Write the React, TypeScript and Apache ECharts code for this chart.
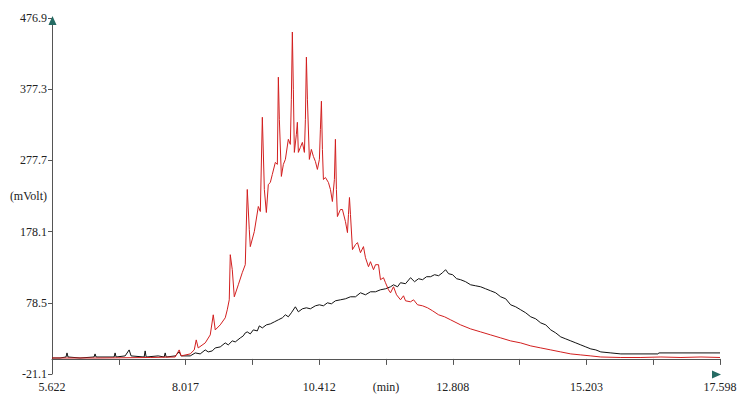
import React, { useEffect, useRef } from "react";
import * as echarts from "echarts";

// Time (min) axis ticks
const xLabelTicks = [5.622, 8.017, 10.412, 12.808, 15.203, 17.598];
const xMinorTicks = [6.8195, 9.2145, 11.61, 14.0055, 16.4005];
const xUnitPos = 11.61;
const xUnitLabel = "(min)";

// Signal (mVolt) axis ticks
const yTicks = [-21.1, 78.5, 178.1, 277.7, 377.3, 476.9];
const yUnitLabel = "(mVolt)";

// Black trace [time min, mVolt]
const blackTrace: [number, number][] = [
  [5.622, 1.3], [5.766, 1.3], [5.873, 2.7], [5.891, 8.4], [5.909, 2.7], [6.125, 1.3],
  [6.376, 2.7], [6.394, 7.0], [6.412, 2.7], [6.735, 2.7], [6.753, 8.4], [6.771, 2.7],
  [6.933, 4.2], [7.005, 12.6], [7.04, 4.2], [7.274, 2.7], [7.292, 11.2], [7.31, 2.7],
  [7.525, 4.2], [7.633, 2.7], [7.651, 8.4], [7.669, 2.7], [7.83, 4.2], [7.902, 9.8],
  [7.938, 4.2], [8.1, 4.2], [8.19, 8.4], [8.279, 7.0], [8.369, 12.6], [8.423, 9.8],
  [8.495, 11.2], [8.549, 15.4], [8.638, 16.8], [8.728, 22.4], [8.782, 19.6], [8.854, 25.2],
  [8.908, 23.8], [8.998, 29.4], [9.051, 32.2], [9.087, 36.4], [9.123, 37.8], [9.177, 35.0],
  [9.231, 40.6], [9.303, 39.2], [9.339, 46.2], [9.393, 43.4], [9.465, 47.6], [9.536, 49.0],
  [9.608, 51.8], [9.68, 54.7], [9.752, 57.5], [9.806, 61.7], [9.859, 58.9], [9.913, 64.5],
  [9.985, 72.9], [10.039, 65.9], [10.111, 70.1], [10.183, 71.5], [10.254, 70.1], [10.344, 74.3],
  [10.416, 75.7], [10.488, 74.3], [10.56, 78.5], [10.631, 77.1], [10.703, 81.3], [10.793, 82.7],
  [10.883, 84.1], [10.973, 86.9], [11.063, 86.9], [11.152, 92.5], [11.242, 89.7], [11.332, 93.9],
  [11.422, 93.9], [11.511, 96.7], [11.601, 98.1], [11.691, 100.9], [11.745, 103.7], [11.817, 100.9],
  [11.87, 106.6], [11.96, 105.2], [12.05, 113.6], [12.122, 108.0], [12.194, 112.2], [12.265, 110.8],
  [12.337, 115.0], [12.409, 115.0], [12.481, 117.8], [12.553, 116.4], [12.624, 120.6], [12.678, 124.8],
  [12.732, 119.2], [12.804, 117.8], [12.876, 112.2], [12.948, 110.8], [13.037, 108.0], [13.127, 103.7],
  [13.217, 102.3], [13.307, 100.9], [13.396, 98.1], [13.486, 95.3], [13.576, 92.5], [13.666, 86.9],
  [13.756, 84.1], [13.845, 75.7], [13.935, 72.9], [14.025, 68.7], [14.115, 64.5], [14.205, 58.9],
  [14.294, 56.1], [14.384, 50.4], [14.474, 47.6], [14.564, 40.6], [14.653, 36.4], [14.743, 30.8],
  [14.833, 28.0], [14.923, 25.2], [15.013, 22.4], [15.102, 19.6], [15.192, 16.8], [15.282, 14.0],
  [15.371, 12.6], [15.461, 9.8], [15.641, 8.4], [15.82, 7.0], [16.485, 7.0], [16.503, 8.4],
  [17.598, 8.4],
];

// Red trace [time min, mVolt]
const redTrace: [number, number][] = [
  [5.622, 1.3], [6.484, 1.3], [7.382, 2.0], [7.83, 2.7], [7.902, 12.6], [7.938, 4.2],
  [8.1, 7.0], [8.172, 12.6], [8.208, 26.6], [8.243, 15.4], [8.369, 22.4], [8.459, 33.6],
  [8.513, 61.7], [8.549, 40.6], [8.638, 47.6], [8.728, 57.5], [8.764, 68.7], [8.8, 82.7],
  [8.818, 145.8], [8.854, 124.8], [8.89, 86.9], [8.962, 103.7], [9.033, 120.6], [9.087, 131.8],
  [9.123, 237.0], [9.159, 180.9], [9.177, 157.1], [9.249, 178.1], [9.321, 213.2], [9.357, 206.2],
  [9.393, 338.0], [9.429, 237.0], [9.465, 204.8], [9.5, 244.0], [9.536, 246.8], [9.572, 258.1],
  [9.626, 274.9], [9.662, 272.1], [9.68, 394.1], [9.698, 335.2], [9.734, 255.3], [9.77, 272.1],
  [9.806, 279.1], [9.859, 307.2], [9.895, 300.1], [9.913, 363.3], [9.931, 457.3], [9.949, 377.3],
  [9.967, 288.9], [10.003, 314.2], [10.021, 331.0], [10.039, 288.9], [10.075, 295.9], [10.111, 302.9],
  [10.147, 288.9], [10.165, 335.2], [10.183, 422.2], [10.201, 363.3], [10.236, 279.1], [10.272, 293.1],
  [10.308, 283.3], [10.344, 276.3], [10.38, 265.1], [10.416, 279.1], [10.434, 321.2], [10.452, 360.5],
  [10.47, 293.1], [10.488, 251.0], [10.524, 253.8], [10.578, 246.8], [10.614, 237.0], [10.649, 220.2],
  [10.685, 251.0], [10.703, 307.2], [10.721, 237.0], [10.739, 199.1], [10.793, 209.0], [10.829, 209.0],
  [10.883, 192.1], [10.919, 176.7], [10.937, 201.9], [10.955, 225.8], [10.973, 201.9], [11.009, 152.9],
  [11.063, 159.9], [11.099, 162.7], [11.152, 148.6], [11.206, 157.1], [11.242, 141.6], [11.296, 129.0],
  [11.332, 136.0], [11.386, 124.8], [11.422, 131.8], [11.476, 131.8], [11.511, 110.8], [11.565, 113.6],
  [11.601, 106.6], [11.655, 96.7], [11.691, 92.5], [11.745, 100.9], [11.799, 89.7], [11.87, 82.7],
  [11.924, 88.3], [11.96, 81.3], [12.05, 79.9], [12.104, 82.7], [12.176, 75.7], [12.265, 74.3],
  [12.355, 71.5], [12.445, 67.3], [12.553, 61.7], [12.66, 58.9], [12.768, 54.7], [12.948, 47.6],
  [13.127, 42.0], [13.307, 37.8], [13.486, 33.6], [13.666, 29.4], [13.845, 25.2], [14.025, 22.4],
  [14.205, 18.2], [14.384, 15.4], [14.564, 12.6], [14.743, 9.8], [14.923, 7.0], [15.102, 5.6],
  [15.282, 4.2], [15.461, 2.7], [15.82, 2.0], [16.18, 2.0], [16.539, 2.7], [16.898, 2.0],
  [17.257, 2.7], [17.598, 2.0],
];

const FONT = "Liberation Serif";

export default function App() {
  const ref = useRef<HTMLDivElement>(null);
  useEffect(() => {
    if (!ref.current) return;
    const chart = echarts.init(ref.current, undefined, { renderer: "svg" });
    chart.setOption({
      animation: false,
      backgroundColor: "#ffffff",
      grid: { left: 52, right: 22, top: 18, bottom: 20, containLabel: false, outerBoundsMode: "none" },
      xAxis: {
        type: "value",
        min: xLabelTicks[0],
        max: xLabelTicks[xLabelTicks.length - 1],
        splitLine: { show: false },
        axisLine: { show: true, lineStyle: { color: "#555", width: 1 } },
        axisTick: {
          show: true,
          length: 6,
          lineStyle: { color: "#555" },
          customValues: [...xLabelTicks, ...xMinorTicks],
        },
        axisLabel: {
          customValues: [...xLabelTicks, xUnitPos],
          formatter: (v: number) =>
            Math.abs(v - xUnitPos) < 1e-6 ? xUnitLabel : v.toFixed(3),
          margin: 7,
          fontFamily: FONT,
          fontSize: 12,
          color: "#222",
          hideOverlap: false,
        },
      },
      yAxis: {
        type: "value",
        min: yTicks[0],
        max: yTicks[yTicks.length - 1],
        splitLine: { show: false },
        name: yUnitLabel,
        nameLocation: "middle",
        nameRotate: 0,
        nameGap: 5,
        nameMoveOverlap: false,
        nameTextStyle: {
          fontFamily: FONT,
          fontSize: 12,
          color: "#222",
          align: "right",
          verticalAlign: "middle",
        },
        axisLine: { show: true, lineStyle: { color: "#555", width: 1 } },
        axisTick: {
          show: true,
          length: 4,
          lineStyle: { color: "#555" },
          customValues: yTicks,
        },
        axisLabel: {
          customValues: yTicks,
          formatter: (v: number) => v.toFixed(1),
          margin: 5,
          fontFamily: FONT,
          fontSize: 12,
          color: "#222",
          hideOverlap: false,
        },
      },
      graphic: [
        {
          type: "polygon",
          shape: { points: [[52.5, 16], [48.5, 25], [56.5, 25]] },
          style: { fill: "#256b63" },
          z: 100,
        },
        {
          type: "polygon",
          shape: { points: [[721, 374.5], [712, 370.5], [712, 378.5]] },
          style: { fill: "#256b63" },
          z: 100,
        },
      ],
      series: [
        {
          type: "line",
          data: blackTrace,
          showSymbol: false,
          lineStyle: { color: "#111111", width: 1 },
          silent: true,
        },
        {
          type: "line",
          data: redTrace,
          showSymbol: false,
          lineStyle: { color: "#d21f1f", width: 1 },
          silent: true,
        },
      ],
    });
    return () => chart.dispose();
  }, []);
  return (
    <div
      ref={ref}
      style={{ position: "fixed", left: 0, top: 0, width: 742, height: 394 }}
    />
  );
}
